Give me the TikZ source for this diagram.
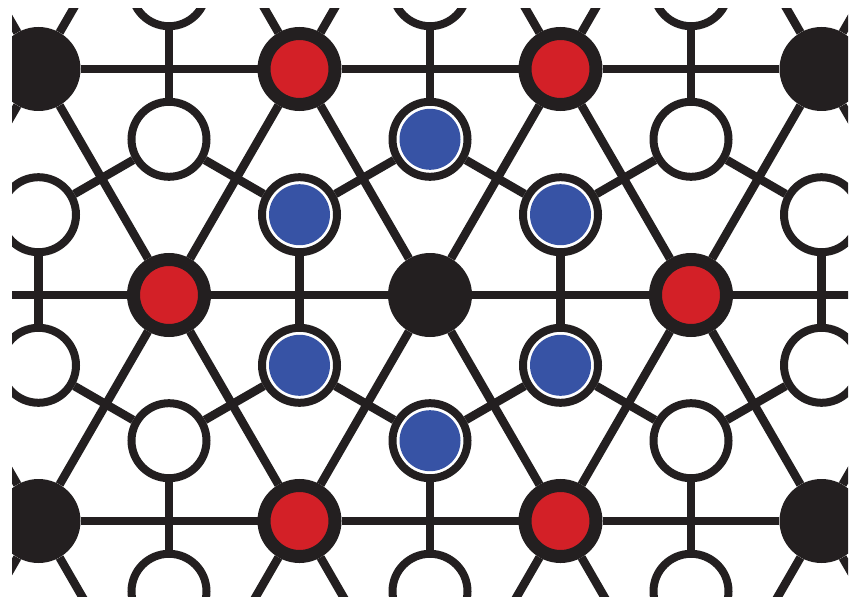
\documentclass[tikz,border=0pt]{standalone}
\usetikzlibrary{backgrounds}

\definecolor{latink}{HTML}{231F20}
\definecolor{latred}{HTML}{D32027}
\definecolor{latblue}{HTML}{3753A5}

\begin{document}
\begin{tikzpicture}[x=1pt,y=-1pt,
  bond/.style={draw=latink,line width=8.5pt},
  site/.style={circle,inner sep=0pt},
  blacksite/.style={site,fill=latink,minimum size=84pt},
  redsite/.style={site,draw=latink,line width=13pt,fill=latred,
                  minimum size=71pt},
  hole/.style={site,draw=latink,line width=8pt,fill=white,
               minimum size=75pt},
  spin/.style={hole,path picture={\fill[latblue]
      (path picture bounding box.center) circle (30.5pt);}}
]
  \useasboundingbox (0,0) rectangle (851,599);

  % triangular lattice: p<i><j>, centre site p32 is black
  \begin{scope}
    \clip (12,9) rectangle (848,596);
    \foreach \j in {0,...,4}
      \foreach \i in {0,...,6} {
        \pgfmathsetmacro\px{430+261*(\i-3)+130.5*(\j-2)}
        \pgfmathsetmacro\py{295+226*(\j-2)}
        \pgfmathtruncatemacro\k{mod(\i-\j+9,3)}
        \ifnum\k=1
          \node[blacksite] (p\i\j) at (\px,\py) {};
        \else
          \node[redsite] (p\i\j) at (\px,\py) {};
        \fi
      }

    % dual honeycomb: d = down triangles, u = up triangles
    \foreach \j in {0,...,3}
      \foreach \i in {0,...,5} {
        \pgfmathsetmacro\px{430+261*(\i-3)+130.5*(\j-2)+130.5}
        \pgfmathsetmacro\py{295+226*(\j-2)+75.3-5}
        \pgfmathtruncatemacro\isspin{(\j==2)*((\i==2)+(\i==3))+(\j==1)*(\i==3)}
        \ifnum\isspin=1
          \node[spin] (d\i\j) at (\px,\py) {};
        \else
          \node[hole] (d\i\j) at (\px,\py) {};
        \fi
      }
    \foreach \j in {1,...,4}
      \foreach \i in {0,...,5} {
        \pgfmathsetmacro\px{430+261*(\i-3)+130.5*(\j-2)+130.5}
        \pgfmathsetmacro\py{295+226*(\j-2)-75.3-5}
        \pgfmathtruncatemacro\isspin{(\j==2)*((\i==2)+(\i==3))+(\j==3)*(\i==2)}
        \ifnum\isspin=1
          \node[spin] (u\i\j) at (\px,\py) {};
        \else
          \node[hole] (u\i\j) at (\px,\py) {};
        \fi
      }
  \end{scope}

  \begin{scope}[on background layer]
    \fill[white] (0,0) rectangle (851,599);
    \clip (12,9) rectangle (848,596);
    % lattice bonds
    \foreach \j in {0,...,4}
      \foreach \i in {0,...,6} {
        \pgfmathtruncatemacro\ip{\i+1}
        \pgfmathtruncatemacro\im{\i-1}
        \pgfmathtruncatemacro\jp{\j+1}
        \ifnum\i<6 \draw[bond] (p\i\j) -- (p\ip\j); \fi
        \ifnum\j<4
          \draw[bond] (p\i\j) -- (p\i\jp);
          \ifnum\i>0 \draw[bond] (p\i\j) -- (p\im\jp); \fi
        \fi
      }
    % honeycomb bonds
    \foreach \j in {0,...,3}
      \foreach \i in {0,...,5} {
        \pgfmathtruncatemacro\im{\i-1}
        \pgfmathtruncatemacro\jp{\j+1}
        \ifnum\j>0 \draw[bond] (d\i\j) -- (u\i\j); \fi
        \ifnum\i>0 \draw[bond] (d\i\j) -- (u\im\jp); \fi
        \draw[bond] (d\i\j) -- (u\i\jp);
      }
  \end{scope}
\end{tikzpicture}
\end{document}
